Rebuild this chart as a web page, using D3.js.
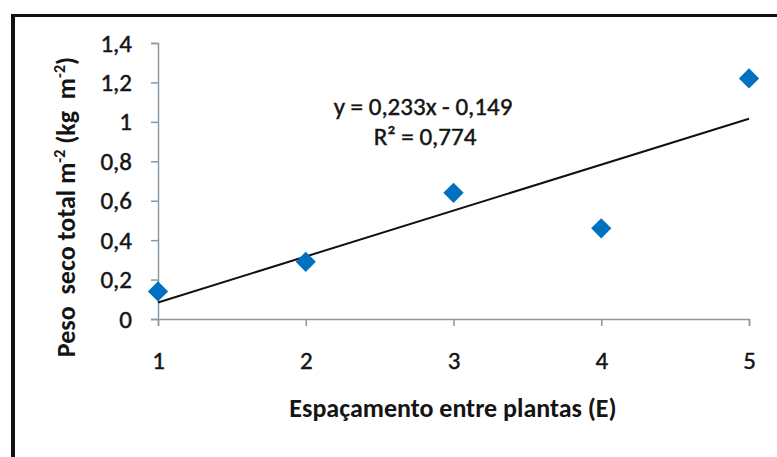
<!DOCTYPE html>
<html>
<head>
<meta charset="utf-8">
<script src="https://cdn.jsdelivr.net/npm/d3@7"></script>
<style>
  html, body { margin: 0; padding: 0; background: #ffffff; }
  svg { display: block; }
  text { font-family: Calibri, Carlito, Lato, "Open Sans", sans-serif; fill: #141414; }
  .heavy { stroke: #141414; stroke-width: 0.45px; }
</style>
</head>
<body>
<svg id="chart" width="777" height="457"></svg>
<script>
// Plant spacing treatments and total dry weight per square metre
const spacing = [1, 2, 3, 4, 5];
const dryWeight = [0.14, 0.29, 0.64, 0.46, 1.22];

// Linear trendline: y = 0,233x - 0,149 ; R² = 0,774
const trendSlope = 0.233;
const trendIntercept = -0.149;
const trendLabels = ["y = 0,233x - 0,149", "R² = 0,774"];

const xTicks = [1, 2, 3, 4, 5];
const xTickLabels = ["1", "2", "3", "4", "5"];
const yTicks = [0, 0.2, 0.4, 0.6, 0.8, 1, 1.2, 1.4];
const yTickLabels = ["0", "0,2", "0,4", "0,6", "0,8", "1", "1,2", "1,4"];

const svg = d3.select("#chart");

const x = d3.scaleLinear().domain([1, 5]).range([158, 749]);
const y = d3.scaleLinear().domain([0, 1.4]).range([319, 43]);

// Frame lines (top and left)
svg.append("line").attr("x1", 11).attr("x2", 777).attr("y1", 15.5).attr("y2", 15.5)
  .attr("stroke", "#111").attr("stroke-width", 3);
svg.append("line").attr("x1", 13).attr("x2", 13).attr("y1", 14).attr("y2", 457)
  .attr("stroke", "#111").attr("stroke-width", 4);

const axisColor = "#8a9aa2";
const tickFont = 'Calibri, Carlito, Lato, sans-serif';

// Y axis
const yAxis = d3.axisLeft(y)
  .tickValues(yTicks)
  .tickSize(7)
  .tickPadding(19)
  .tickFormat((d, i) => yTickLabels[i]);
const gy = svg.append("g").attr("transform", `translate(${x(1)},0)`).call(yAxis);
gy.select(".domain").attr("stroke", axisColor).attr("stroke-width", 1.5);
gy.selectAll(".tick line").attr("stroke", axisColor).attr("stroke-width", 1.5);
gy.selectAll(".tick text").attr("font-size", 25).attr("fill", "#141414")
  .attr("class", "heavy").style("font-family", tickFont);

// X axis
const xAxis = d3.axisBottom(x)
  .tickValues(xTicks)
  .tickSize(7)
  .tickPadding(25)
  .tickFormat((d, i) => xTickLabels[i]);
const gx = svg.append("g").attr("transform", `translate(0,${y(0)})`).call(xAxis);
gx.select(".domain").attr("stroke", axisColor).attr("stroke-width", 1.5);
gx.selectAll(".tick line").attr("stroke", axisColor).attr("stroke-width", 1.5);
gx.selectAll(".tick text").attr("font-size", 25).attr("fill", "#141414")
  .attr("class", "heavy").style("font-family", tickFont);

// Trendline across the data range
const xMin = d3.min(spacing), xMax = d3.max(spacing);
svg.append("line")
  .attr("x1", x(xMin)).attr("y1", y(trendSlope * xMin + trendIntercept))
  .attr("x2", x(xMax)).attr("y2", y(trendSlope * xMax + trendIntercept))
  .attr("stroke", "#111").attr("stroke-width", 2);

// Diamond markers
const diamond = d3.symbol().type(d3.symbolSquare).size(205);
svg.append("g").selectAll("path")
  .data(spacing.map((s, i) => ({ s, v: dryWeight[i] })))
  .join("path")
  .attr("d", diamond)
  .attr("transform", d => `translate(${x(d.s)},${y(d.v)}) rotate(45)`)
  .attr("fill", "#0071c0");

// Trendline equation
const eq = svg.append("text").attr("class", "heavy").attr("text-anchor", "middle").attr("font-size", 25);
eq.append("tspan").attr("x", 423).attr("y", 115).text(trendLabels[0]);
eq.append("tspan").attr("x", 425).attr("y", 145).text(trendLabels[1]);

// Axis titles
svg.append("text")
  .attr("x", 453).attr("y", 417)
  .attr("text-anchor", "middle")
  .attr("font-size", 26).attr("font-weight", "bold")
  .text("Espaçamento entre plantas (E)");

const yt = svg.append("text")
  .attr("transform", "translate(75,207) rotate(-90)")
  .attr("text-anchor", "middle")
  .attr("font-size", 26).attr("font-weight", "bold")
  .style("white-space", "pre");
yt.append("tspan").text("Peso  seco total m");
yt.append("tspan").attr("font-size", 16).attr("dy", -10).text("-2");
yt.append("tspan").attr("dy", 10).text(" (kg  m");
yt.append("tspan").attr("font-size", 16).attr("dy", -10).text("-2");
yt.append("tspan").attr("dy", 10).text(")");
</script>
</body>
</html>
